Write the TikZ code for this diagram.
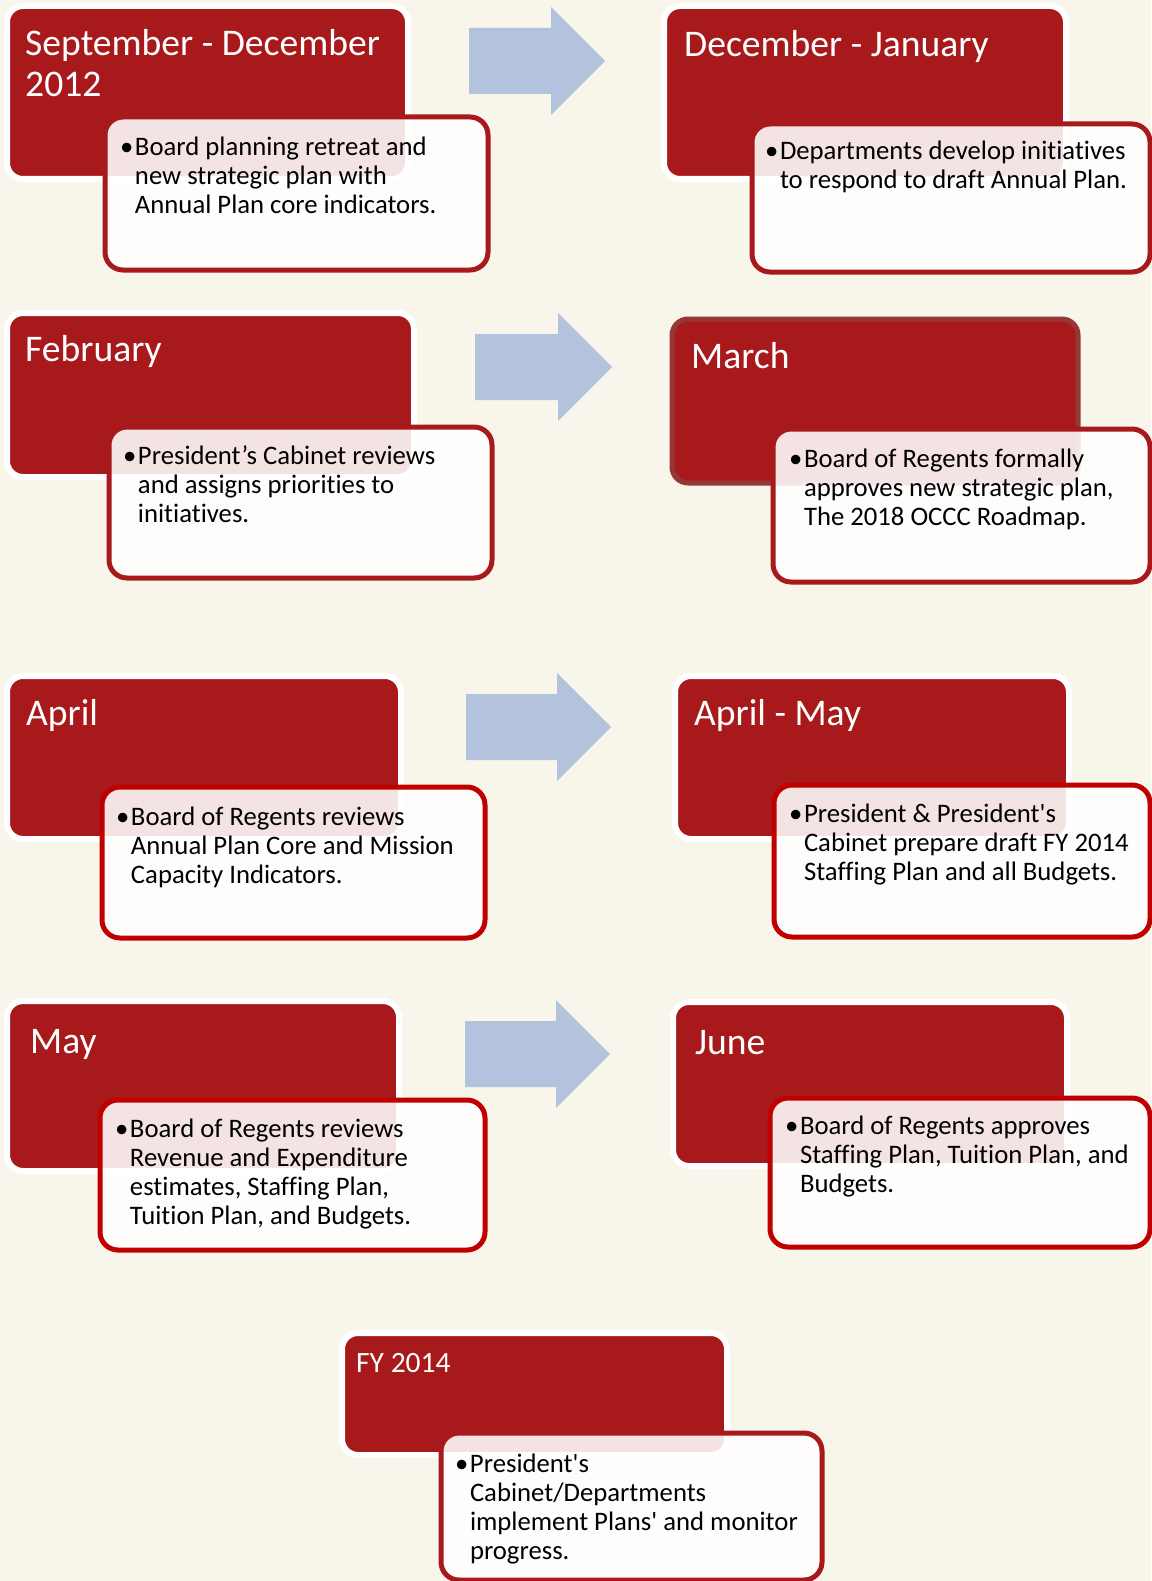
\documentclass[tikz,border=0pt]{standalone}
\usepackage{fontspec}
\setmainfont{Carlito}[Ligatures={TeX,NoCommon}, Contextuals=NoAlternate]
\definecolor{occred}{HTML}{A8191C}
\definecolor{brightred}{HTML}{C00000}
\definecolor{marchedge}{HTML}{953737}
\definecolor{arrowblue}{HTML}{B3C3DD}
\definecolor{paper}{HTML}{F8F5EB}
\tikzset{
  monthbox/.style={anchor=north west, inner sep=0pt, fill=occred, draw=white, line width=6pt, rounded corners=16pt},
  notebox/.style={anchor=north west, inner sep=0pt, fill=white, fill opacity=0.88, draw=occred, line width=5pt, rounded corners=18pt},
  monthtext/.style={anchor=base west, inner sep=0pt, text=white, font=\fontsize{37.6}{41}\selectfont},
  notetext/.style={anchor=base west, inner sep=0pt, text=black, font=\fontsize{26.7}{29}\selectfont},
  boxsize/.style 2 args={minimum width=#1pt, minimum height=#2pt}
}
\newcommand{\notelines}[1]{\begin{tabular}[t]{@{}l@{\hspace{1.5pt}}l@{}}\textbullet&#1\end{tabular}}
\newcommand{\sq}{\textquotesingle}

\begin{document}
\begin{tikzpicture}[x=1pt,y=-1pt]
  \fill[paper] (0,0) rectangle (1151,1581);
  \useasboundingbox (0,0) rectangle (1151,1581);

  % block arrows between the months
  \foreach \ax/\ay/\al in {469/61/136, 475/367/137, 466/727/145, 465/1054/145}
    \fill[arrowblue] (\ax,\ay-33) -- (\ax+\al-54,\ay-33) -- (\ax+\al-54,\ay-54) -- (\ax+\al,\ay)
      -- (\ax+\al-54,\ay+54) -- (\ax+\al-54,\ay+33) -- (\ax,\ay+33) -- cycle;

  % month boxes
  \node[monthbox, boxsize={401}{173}] (sepdec) at (4,3) {};
  \node[monthbox, boxsize={402}{173}] (decjan) at (661,3) {};
  \node[monthbox, boxsize={407}{164}] (feb) at (4,310) {};
  \node[monthbox, draw=marchedge, line width=5pt, boxsize={406}{164}] (mar) at (669.5,316.5) {};
  \node[monthbox, boxsize={394}{163}] (apr) at (4,673) {};
  \node[monthbox, boxsize={394}{163}] (aprmay) at (672,673) {};
  \node[monthbox, boxsize={392}{170}] (may) at (4,998) {};
  \node[monthbox, boxsize={394}{164}] (jun) at (670,999) {};
  \node[monthbox, boxsize={385}{122}] (fy) at (339,1330) {};

  % note boxes
  \node[notebox, boxsize={383}{153}] (sepdecnote) at (102.5,114.5) {};
  \node[notebox, boxsize={398}{148}] (decjannote) at (749.5,121.5) {};
  \node[notebox, boxsize={383}{151}] (febnote) at (106.5,424.5) {};
  \node[notebox, boxsize={377}{153}] (marnote) at (770.5,426.5) {};
  \node[notebox, draw=brightred, boxsize={383}{151}] (aprnote) at (99.5,784.5) {};
  \node[notebox, draw=brightred, boxsize={376}{152}] (aprmaynote) at (771.5,782.5) {};
  \node[notebox, draw=brightred, boxsize={385}{150}] (maynote) at (97.5,1097.5) {};
  \node[notebox, draw=brightred, boxsize={380}{149}] (junnote) at (767.5,1095.5) {};
  \node[notebox, boxsize={381}{147}] (fynote) at (438.5,1430.5) {};

  % month titles
  \node[monthtext] (sepdectitle) at (25,56) {\begin{tabular}[t]{@{}l@{}}September - December\\2012\end{tabular}};
  \node[monthtext] (decjantitle) at (684,57) {December - January};
  \node[monthtext] (febtitle) at (25,361) {February};
  \node[monthtext] (martitle) at (691,368) {March};
  \node[monthtext] (aprtitle) at (26,725) {April};
  \node[monthtext] (aprmaytitle) at (694,725) {April - May};
  \node[monthtext] (maytitle) at (30,1053) {May};
  \node[monthtext] (juntitle) at (695,1054) {June};
  \node[monthtext, font=\fontsize{29.5}{35}\selectfont] (fytitle) at (356,1372) {FY 2014};

  % notes
  \node[notetext] (sepdectext) at (120,156) {\notelines{Board planning retreat and\\&new strategic plan with\\&Annual Plan core indicators.}};
  \node[notetext] (decjantext) at (765,160) {\notelines{Departments develop initiatives\\&to respond to draft Annual Plan.}};
  \node[notetext] (febtext) at (123,464) {\notelines{President’s Cabinet reviews\\&and assigns priorities to\\&initiatives.}};
  \node[notetext] (martext) at (789,467) {\notelines{Board of Regents formally\\&approves new strategic plan,\\&The 2018 OCCC Roadmap.}};
  \node[notetext] (aprtext) at (116,825) {\notelines{Board of Regents reviews\\&Annual Plan Core and Mission\\&Capacity Indicators.}};
  \node[notetext] (aprmaytext) at (789,822) {\notelines{President \& President\sq s\\&Cabinet prepare draft FY 2014\\&Staffing Plan and all Budgets.}};
  \node[notetext] (maytext) at (115,1137) {\notelines{Board of Regents reviews\\&Revenue and Expenditure\\&estimates, Staffing Plan,\\&Tuition Plan, and Budgets.}};
  \node[notetext] (juntext) at (785,1134) {\notelines{Board of Regents approves\\&Staffing Plan, Tuition Plan, and\\&Budgets.}};
  \node[notetext] (fytext) at (455,1472) {\notelines{President\sq s\\&Cabinet/Departments\\&implement Plans\sq\ and monitor\\&progress.}};
\end{tikzpicture}
\end{document}
